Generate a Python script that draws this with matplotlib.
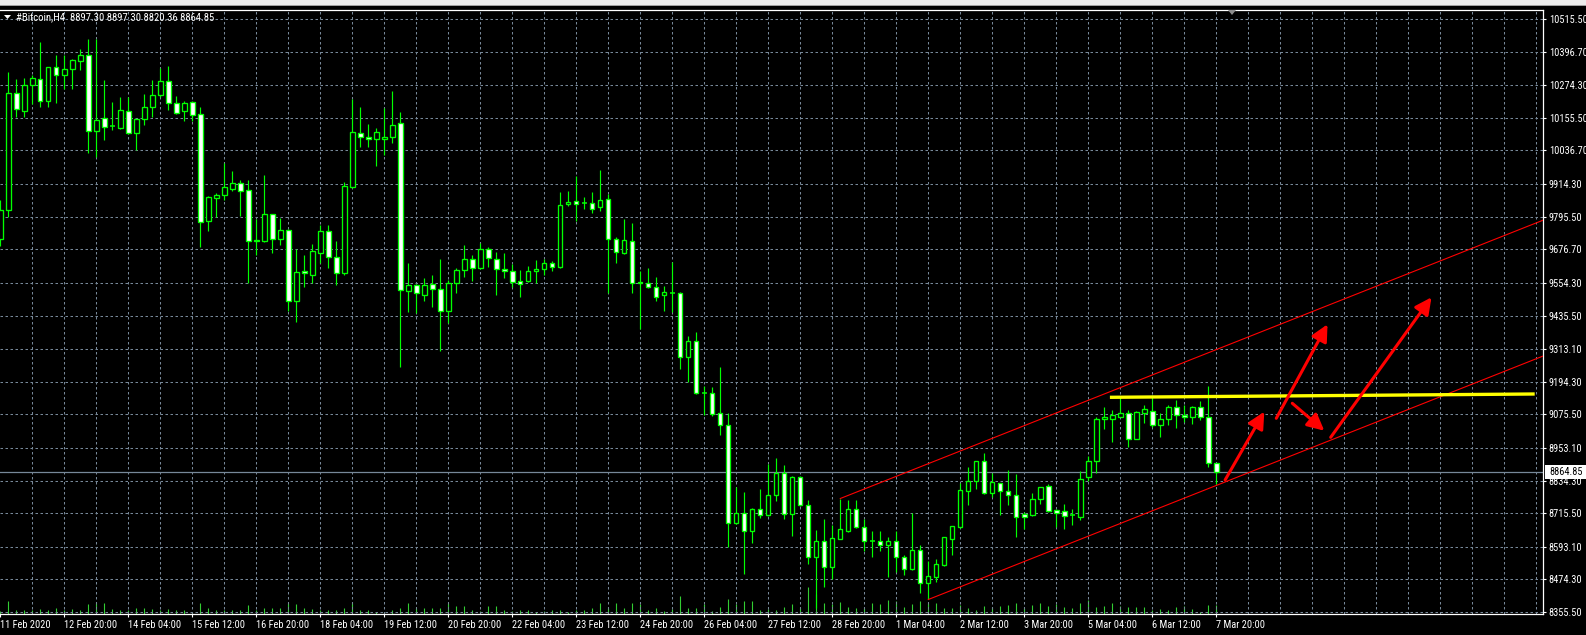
import numpy as np
import pandas as pd
import matplotlib
matplotlib.use("Agg")
import matplotlib.pyplot as plt
from matplotlib.patches import Rectangle, Polygon, FancyArrowPatch
from matplotlib import font_manager

# ---------------- data ----------------
symbol = "#Bitcoin,H4"
first_bar = "2020-02-11 12:00"

opens = [9714.1, 9819.8, 10246.0, 10180.4, 10275.1, 10296.9, 10216.9, 10340.7, 10311.5, 10333.4,
         10362.6, 10384.4, 10107.6, 10154.9, 10125.7, 10118.5, 10180.4, 10100.3, 10151.2, 10195.0,
         10238.7, 10289.7, 10209.6, 10180.4, 10213.2, 10169.4, 9779.7, 9863.5, 9874.4, 9896.2,
         9918.1, 9892.6, 9710.5, 9706.9, 9805.2, 9714.1, 9746.9, 9488.3, 9597.6, 9583.0,
         9663.2, 9743.3, 9648.6, 9590.3, 9903.5, 10100.3, 10085.7, 10078.4, 10078.4, 10085.7,
         10136.7, 9524.8, 9546.6, 9510.2, 9550.2, 9532.0, 9451.9, 9553.9, 9601.2, 9641.3,
         9608.5, 9677.7, 9641.3, 9604.9, 9597.6, 9561.2, 9561.2, 9597.6, 9604.9, 9626.7,
         9612.1, 9841.6, 9852.6, 9845.3, 9845.3, 9830.7, 9859.8, 9714.1, 9663.2, 9706.9,
         9557.5, 9553.9, 9539.3, 9510.2, 9519.3, 9517.5, 9284.3, 9342.6, 9155.0, 9153.2,
         9080.4, 9036.6, 8679.7, 8716.1, 8650.6, 8730.6, 8708.8, 8781.7, 8861.8, 8712.4,
         8847.2, 8745.2, 8555.8, 8614.1, 8519.4, 8621.4, 8650.6, 8730.6, 8665.1, 8616.0,
         8614.1, 8599.5, 8614.1, 8555.8, 8512.1, 8581.3, 8461.1, 8483.0, 8526.7, 8621.4,
         8665.1, 8796.3, 8832.7, 8905.5, 8789.0, 8825.4, 8796.3, 8781.7, 8712.4, 8708.8,
         8767.1, 8814.4, 8727.0, 8723.3, 8708.8, 8701.5, 8847.2, 8905.5, 9058.4, 9058.4,
         9065.7, 9080.4, 8985.6, 9080.4, 9087.7, 9036.6, 9058.4, 9102.2, 9073.0, 9065.7,
         9102.2, 9065.7, 8897.30]
highs = [9856.2, 10322.4, 10296.9, 10300.6, 10311.5, 10431.7, 10342.0, 10384.4, 10384.4, 10369.8,
         10406.2, 10442.6, 10442.6, 10293.3, 10213.2, 10231.4, 10231.4, 10153.0, 10242.3, 10293.3,
         10337.1, 10344.3, 10235.0, 10216.9, 10216.9, 10195.0, 9870.7, 9881.7, 9991.0, 9961.9,
         9929.0, 9929.0, 9787.0, 9947.3, 9807.0, 9790.7, 9749.0, 9677.7, 9655.9, 9695.9,
         9765.1, 9765.1, 9706.9, 9921.7, 10224.1, 10195.0, 10133.0, 10118.5, 10191.3, 10253.3,
         10176.7, 9626.7, 9549.0, 9572.1, 9583.0, 9641.3, 9564.8, 9608.5, 9692.3, 9655.9,
         9699.6, 9684.9, 9666.8, 9663.2, 9623.0, 9601.2, 9615.8, 9637.6, 9641.3, 9634.0,
         9885.3, 9889.0, 9943.7, 9867.1, 9885.3, 9965.5, 9878.0, 9721.4, 9787.0, 9772.4,
         9597.6, 9608.5, 9575.7, 9543.0, 9630.3, 9521.1, 9360.8, 9375.4, 9178.6, 9175.0,
         9247.9, 9080.4, 8810.8, 8792.6, 8734.3, 8803.5, 8894.5, 8916.5, 8890.9, 8850.8,
         8851.0, 8763.4, 8654.2, 8694.2, 8672.4, 8767.1, 8763.4, 8763.4, 8694.2, 8650.6,
         8650.6, 8628.7, 8650.6, 8563.1, 8716.1, 8599.5, 8541.3, 8548.5, 8630.0, 8670.0,
         8825.4, 8883.6, 8907.0, 8934.7, 8861.8, 8827.0, 8872.7, 8858.1, 8719.7, 8789.0,
         8812.0, 8821.7, 8730.6, 8748.8, 8730.6, 8869.1, 8923.8, 9065.7, 9102.2, 9091.3,
         9138.6, 9091.3, 9087.7, 9109.5, 9145.9, 9080.4, 9109.5, 9127.7, 9109.5, 9105.9,
         9124.1, 9178.7, 8897.30]
lows = [9688.6, 9794.3, 10158.5, 10158.5, 10205.9, 10195.0, 10195.0, 10209.6, 10260.5, 10260.5,
        10329.7, 10027.4, 10012.8, 10074.7, 10111.2, 10114.8, 10098.0, 10038.3, 10129.4, 10158.5,
        10231.4, 10184.0, 10171.0, 10144.0, 10144.0, 9685.0, 9743.3, 9794.3, 9856.2, 9889.0,
        9797.9, 9553.9, 9655.9, 9703.2, 9663.2, 9692.3, 9451.9, 9411.8, 9539.3, 9553.9,
        9626.7, 9608.5, 9546.6, 9583.0, 9901.0, 10049.2, 10049.2, 9980.0, 10020.1, 10063.8,
        9247.9, 9448.2, 9444.6, 9488.3, 9466.4, 9306.2, 9408.2, 9517.5, 9575.7, 9561.2,
        9604.9, 9612.1, 9510.2, 9572.1, 9539.3, 9503.0, 9557.5, 9553.9, 9583.0, 9597.6,
        9610.0, 9836.0, 9779.7, 9823.4, 9808.9, 9816.1, 9517.5, 9626.7, 9661.0, 9517.5,
        9386.3, 9535.7, 9488.3, 9451.9, 9448.2, 9240.6, 9193.2, 9151.0, 9073.1, 9069.4,
        9000.2, 8592.2, 8677.0, 8493.9, 8606.8, 8697.9, 8706.0, 8759.8, 8694.2, 8632.3,
        8742.0, 8530.3, 8370.1, 8446.5, 8475.7, 8620.0, 8647.0, 8663.0, 8577.7, 8555.8,
        8577.7, 8483.0, 8501.2, 8490.3, 8510.0, 8424.7, 8402.8, 8464.7, 8524.0, 8563.1,
        8663.0, 8745.2, 8803.5, 8785.3, 8774.4, 8708.8, 8745.2, 8628.7, 8657.8, 8705.1,
        8748.8, 8719.7, 8665.1, 8657.8, 8672.4, 8690.6, 8832.7, 8861.8, 9022.0, 8974.7,
        9064.0, 8956.5, 8984.0, 9043.9, 9029.3, 8993.0, 9036.6, 9025.7, 9047.5, 9040.2,
        9054.8, 8883.6, 8820.36]
closes = [9819.8, 10246.0, 10187.7, 10275.1, 10300.6, 10216.9, 10340.7, 10311.5, 10333.4, 10366.2,
          10384.4, 10107.6, 10147.6, 10122.1, 10124.0, 10184.0, 10100.3, 10151.2, 10195.0, 10238.7,
          10289.7, 10209.6, 10173.1, 10209.6, 10165.8, 9776.0, 9867.1, 9874.4, 9903.5, 9918.1,
          9889.0, 9706.9, 9706.9, 9805.2, 9714.1, 9746.9, 9488.3, 9593.9, 9590.3, 9670.5,
          9743.3, 9648.6, 9590.3, 9907.1, 10103.9, 10085.7, 10078.4, 10103.9, 10085.7, 10129.4,
          9528.4, 9546.6, 9517.5, 9546.6, 9532.0, 9451.9, 9553.9, 9601.2, 9641.3, 9608.5,
          9677.7, 9645.0, 9604.9, 9599.4, 9557.5, 9550.2, 9597.6, 9604.9, 9626.7, 9612.1,
          9838.0, 9848.9, 9841.6, 9843.5, 9823.4, 9856.2, 9714.1, 9666.8, 9710.5, 9553.9,
          9553.9, 9539.3, 9503.0, 9521.1, 9518.5, 9284.3, 9342.6, 9153.2, 9153.2, 9076.7,
          9036.6, 8679.7, 8716.1, 8650.6, 8730.6, 8708.8, 8781.7, 8861.8, 8712.4, 8847.2,
          8745.2, 8555.8, 8614.1, 8519.4, 8625.1, 8657.8, 8730.6, 8665.1, 8614.1, 8614.1,
          8599.5, 8614.1, 8555.8, 8512.1, 8581.3, 8461.1, 8486.6, 8530.3, 8628.7, 8668.7,
          8799.9, 8832.7, 8905.5, 8789.0, 8829.0, 8796.3, 8781.7, 8701.5, 8701.5, 8767.1,
          8810.8, 8723.3, 8716.1, 8705.1, 8707.0, 8839.9, 8905.5, 9058.4, 9065.7, 9073.0,
          9080.4, 8985.6, 9084.0, 9095.0, 9036.6, 9058.4, 9102.2, 9073.0, 9065.7, 9102.2,
          9065.7, 8897.3, 8864.85]
volumes = [600, 2600, 800, 800, 800, 1000, 800, 1200, 800, 1000,
           800, 2000, 2200, 2200, 1000, 800, 800, 1200, 1200, 1000,
           800, 1000, 800, 800, 400, 2200, 1200, 800, 800, 800,
           800, 1800, 800, 1200, 1200, 1200, 2200, 2000, 1200, 1000,
           800, 800, 800, 1200, 2200, 800, 800, 400, 400, 800,
           1200, 2200, 1200, 1200, 1200, 1200, 2200, 1600, 1600, 800,
           600, 1600, 1600, 800, 600, 800, 800, 400, 600, 800,
           800, 400, 800, 800, 1200, 2200, 1200, 2200, 1200, 2200,
           2000, 800, 1200, 600, 1000, 3600, 1200, 1200, 2000, 600,
           1400, 3000, 2000, 2600, 2600, 800, 1000, 800, 1400, 2000,
           1200, 5400, 4000, 2200, 2000, 2400, 1400, 1200, 1200, 2200,
           2000, 2800, 2600, 1400, 2000, 2600, 2200, 2200, 1200, 1200,
           1800, 1200, 800, 1600, 1400, 1600, 1800, 2200, 1200, 1800,
           2200, 1600, 2000, 1400, 1200, 2200, 2800, 1400, 1600, 2200,
           1600, 1400, 1400, 1400, 800, 1000, 800, 1400, 1600, 1000,
           400, 1800, 1800]

price_ticks = [10515.50, 10396.70, 10274.30, 10155.50, 10036.70, 9914.30, 9795.50, 9676.70,
               9554.30, 9435.50, 9313.10, 9194.30, 9075.50, 8953.10, 8834.30, 8715.50,
               8593.10, 8474.30, 8355.50]

# drawn objects: (bar, price)
channel_upper_start = (105, 8768.9)
channel_lower_start = (116, 8401.0)
channel_slope = 11.54                      # price per bar
resistance_line = [(138.7, 9137.5), (191.8, 9149.6)]
arrow_paths = [((153.1, 8836.3), (158.0, 9085.1)),
               ((159.5, 9061.0), (165.9, 9403.4)),
               ((161.5, 9115.7), (165.5, 9015.9)),
               ((166.3, 8991.8), (178.9, 9501.8))]

# ---------------- style ----------------
available = {f.name for f in font_manager.fontManager.ttflist}
narrow = [f for f in ["Liberation Sans Narrow", "Arial Narrow", "DejaVu Sans Condensed",
                      "Roboto Condensed", "Open Sans Condensed"] if f in available]
if narrow:
    FONT, FS = narrow[0], 7.5
elif "Liberation Sans" in available:
    FONT, FS = "Liberation Sans", 6.6
else:
    FONT, FS = "DejaVu Sans", 6.0
plt.rcParams["font.family"] = [FONT, "DejaVu Sans"]

CANDLE = "#00ff00"
VOLC = "#32cd32"
GRID = "#778899"

W, H = 1586, 635
fig = plt.figure(figsize=(W / 100, H / 100), dpi=100, facecolor="black")
rect = [0, 21 / H, 1543 / W, 604 / H]

n = len(closes)
assert len(opens) == n and len(highs) == n and len(lows) == n and len(volumes) == n
xs = np.arange(n)
dates = pd.date_range(first_bar, periods=n, freq="4h")

xmin, xmax = -0.3 / 8, (1543 - 0.3) / 8
ymin, ymax = 8348.2, 10548.3

# volume axes underneath
axv = fig.add_axes(rect, label="volume")
axv.set_facecolor("black")
axv.set_xlim(xmin, xmax)
axv.set_ylim(0, 604 * 200)
axv.vlines(xs, 0, volumes, color=VOLC, lw=0.8)
axv.axis("off")

ax = fig.add_axes(rect, label="price")
ax.patch.set_visible(False)
ax.set_xlim(xmin, xmax)
ax.set_ylim(ymin, ymax)

# grid
for p in price_ticks:
    ax.axhline(p, color=GRID, lw=0.75, ls=(0, (2.4, 2.4)), zorder=1)
for b in range(4, 193, 4):
    ax.axvline(b, color=GRID, lw=0.75, ls=(0, (2.4, 2.4)), zorder=1)

# bid line
last = closes[-1]
ax.axhline(last, color=GRID, lw=0.9, zorder=2)

# candles
bw = 0.55
ax.vlines(xs, lows, highs, color=CANDLE, lw=0.85, zorder=3)
for i in range(n):
    o, c = opens[i], closes[i]
    lo, hi = min(o, c), max(o, c)
    if hi - lo < 2.5:
        ax.hlines((o + c) / 2, i - bw / 2 - 0.06, i + bw / 2 + 0.06, color=CANDLE, lw=1.1, zorder=4)
    else:
        face = "white" if c < o else "black"
        ax.add_patch(Rectangle((i - bw / 2, lo), bw, hi - lo, facecolor=face,
                               edgecolor=CANDLE, lw=0.95, zorder=4))

# channel
def line_from(start, x_end):
    b0, p0 = start
    return [b0, x_end], [p0, p0 + channel_slope * (x_end - b0)]

ux, uy = line_from(channel_upper_start, xmax)
lx, ly = line_from(channel_lower_start, xmax)
ax.plot(ux, uy, color="#ff0000", lw=0.8, zorder=5)
ax.plot(lx, ly, color="#ff0000", lw=0.8, zorder=5)

# resistance
(rx0, ry0), (rx1, ry1) = resistance_line
ax.plot([rx0, rx1], [ry0, ry1], color="#ffff00", lw=2.4, solid_capstyle="butt", zorder=5)

# arrows
for (a, b) in arrow_paths:
    ax.add_patch(FancyArrowPatch(a, b, arrowstyle="-|>,head_length=1.0,head_width=0.5",
                                 mutation_scale=10, color="#ff0000", lw=2.2,
                                 shrinkA=0, shrinkB=0, zorder=6))

# axes styling
ax.spines["left"].set_visible(False)
for s in ["top", "right", "bottom"]:
    ax.spines[s].set_color("white")
    ax.spines[s].set_linewidth(0.9)

ax.yaxis.tick_right()
ax.set_yticks(price_ticks, [f"{p:.2f}" for p in price_ticks])
ax.tick_params(axis="y", colors="white", length=2, width=0.8, pad=2.2, labelsize=FS)

label_bars = [0] + list(range(8, n, 8))
labels = []
for b in label_bars:
    d = dates[b]
    if b == 0:
        labels.append(f"{d.day} {d.strftime('%b %Y')}")
    else:
        labels.append(f"{d.day} {d.strftime('%b %H:%M')}")
ax.set_xticks(label_bars, labels, ha="left")
ax.tick_params(axis="x", colors="white", length=2, width=0.8, pad=2, labelsize=FS)

# current price label
bid_y = ax.transData.transform((0, last))[1]
fig.patches.append(Rectangle((1545 / W, (bid_y - 7) / H), 41 / W, 14 / H,
                             transform=fig.transFigure, facecolor="white", edgecolor="none", zorder=10))
fig.text(1549 / W, bid_y / H, f"{last:.2f}", color="black", fontsize=FS, va="center", ha="left", zorder=11)

# top window strip
fig.patches.append(Rectangle((0, (H - 5) / H), 1, 5 / H, transform=fig.transFigure,
                             facecolor="#ececec", edgecolor="none", zorder=10))
fig.patches.append(Rectangle((0, (H - 6) / H), 1, 1 / H, transform=fig.transFigure,
                             facecolor="#a0a0a0", edgecolor="none", zorder=10))

# shift marker
fig.patches.append(Polygon([[1228 / W, (H - 10) / H], [1236 / W, (H - 10) / H], [1232 / W, (H - 15) / H]],
                           closed=True, transform=fig.transFigure, facecolor="#8c8c8c",
                           edgecolor="none", zorder=10))

# title
fig.patches.append(Polygon([[4 / W, (H - 15) / H], [11 / W, (H - 15) / H], [7.5 / W, (H - 19) / H]],
                           closed=True, transform=fig.transFigure, facecolor="white",
                           edgecolor="none", zorder=10))
title = f"{symbol}  {opens[-1]:.2f} {highs[-1]:.2f} {lows[-1]:.2f} {closes[-1]:.2f}"
fig.text(16 / W, (H - 17) / H, title, color="white", fontsize=FS + 0.2, va="center", ha="left", zorder=11)

fig.savefig("out.png", dpi=100, facecolor="black")
